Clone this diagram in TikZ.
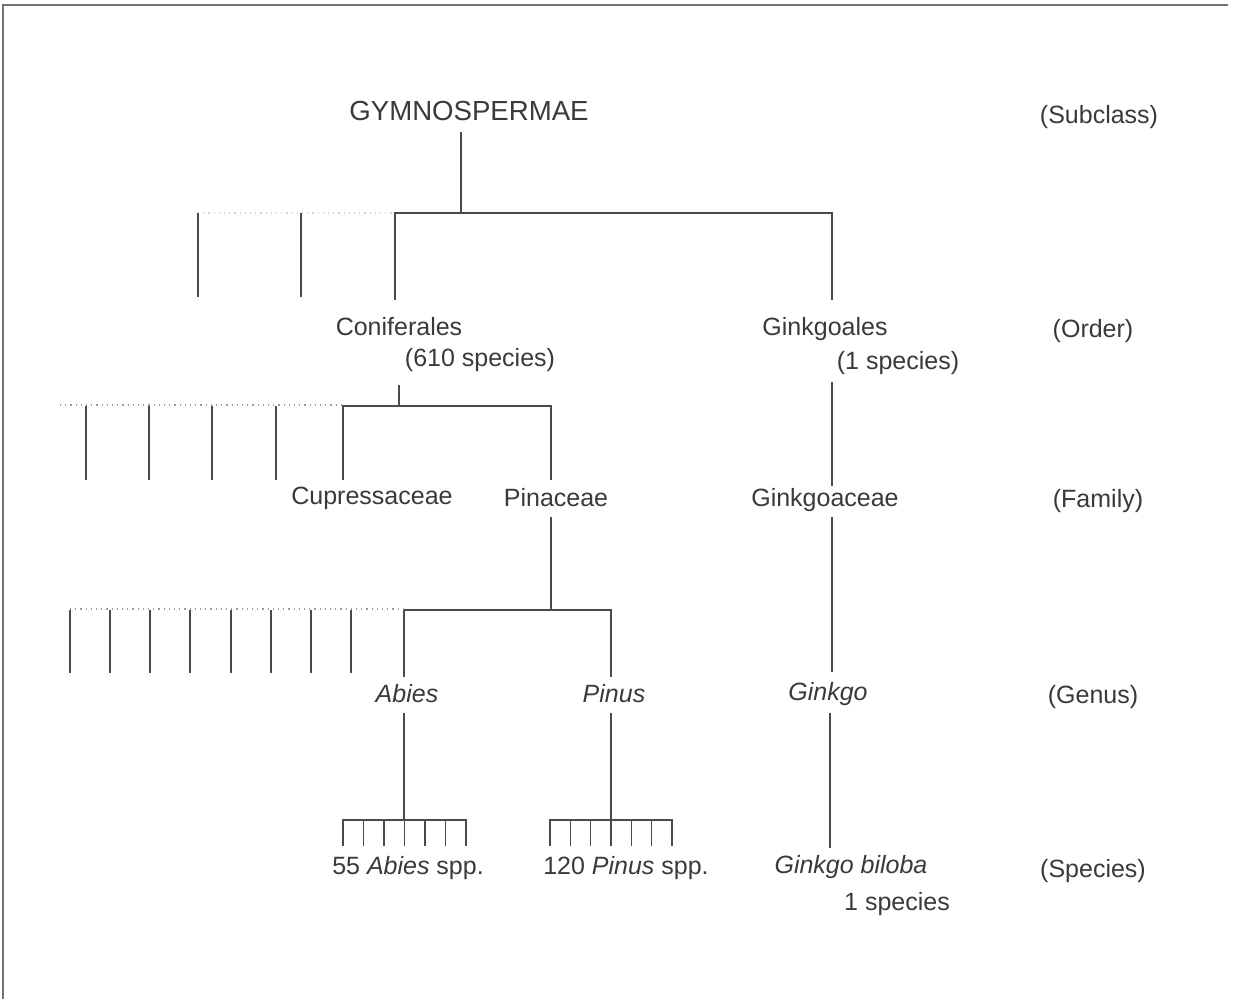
\documentclass[tikz,border=0pt]{standalone}
\usepackage{fontspec}
\setmainfont{Liberation Sans}
\definecolor{ink}{HTML}{3A3A3A}
\definecolor{rule}{HTML}{4A4A4A}
\tikzset{
  lbl/.style={text=ink, font=\fontsize{12.5}{15}\selectfont, inner sep=1pt, anchor=center},
  rank/.style={lbl},
  branch/.style={draw=rule, line width=0.75pt},
  faint/.style={draw=rule!55, line width=0.6pt, dotted},
  fainter/.style={draw=rule!25, line width=0.6pt, dotted},
  frame/.style={draw=black!55, line width=0.8pt}
}
\begin{document}
\begin{tikzpicture}[x=0.5pt, y=-0.5pt]
\useasboundingbox (0,0) rectangle (1243,999);
\fill[white] (0,0) rectangle (1243,999);
% page edge
\draw[frame] (3,999) -- (3,5) -- (1228,5);

% ---- labels ----
\node[lbl, font=\fontsize{13.8}{16}\selectfont] (gym) at (469,111) {GYMNOSPERMAE};
\node[lbl] (con) at (399,327) {Coniferales};
\node[lbl] (con2) at (480,360) {(610 species)};
\node[lbl] (gin) at (825,329) {Ginkgoales};
\node[lbl] (gin2) at (898,363) {(1 species)};
\node[lbl] (cup) at (372,498) {Cupressaceae};
\node[lbl] (pina) at (556,498) {Pinaceae};
\node[lbl] (ginf) at (825,500) {Ginkgoaceae};
\node[lbl] (abies) at (407,694) {\itshape Abies};
\node[lbl] (pinus) at (614,694) {\itshape Pinus};
\node[lbl] (ging) at (828,694) {\itshape Ginkgo};
\node[lbl] (abs) at (408,868) {55 \textit{Abies} spp.};
\node[lbl] (pis) at (626,868) {120 \textit{Pinus} spp.};
\node[lbl] (gb) at (851,867) {\itshape Ginkgo biloba};
\node[lbl] (gb2) at (897,904) {1 species};

\node[rank] (r1) at (1099,117) {(Subclass)};
\node[rank] (r2) at (1093,331) {(Order)};
\node[rank] (r3) at (1098,501) {(Family)};
\node[rank] (r4) at (1093,697) {(Genus)};
\node[rank] (r5) at (1093,871) {(Species)};

% ---- junction points ----
\coordinate (j1) at (461,213);
\coordinate (j2) at (399,406);
\coordinate (j3) at (551,610);
\coordinate (j4) at (404,820);
\coordinate (j5) at (611,820);

% subclass -> orders
\draw[branch] (461,132) -- (j1);
\draw[branch] (395,300) -- (395,213) -- (832,213) -- (832,300);
\draw[fainter] (198,213) -- (395,213);
\foreach \x in {198,301} \draw[branch] (\x,213) -- (\x,297);

% Coniferales -> families
\draw[branch] (399,385) -- (j2);
\draw[branch] (343,480) -- (343,406) -- (551,406) -- (551,480);
\draw[faint] (60,405) -- (343,405);
\foreach \x in {86,149,212,276} \draw[branch] (\x,406) -- (\x,480);

% Ginkgoales -> Ginkgoaceae
\draw[branch] (832,382) -- (832,486);

% Pinaceae -> genera
\draw[branch] (551,517) -- (j3);
\draw[branch] (404,677) -- (404,610) -- (611,610) -- (611,677);
\draw[faint] (70,609) -- (404,609);
\foreach \x in {70,110,150,190,231,271,311,351} \draw[branch] (\x,610) -- (\x,673);

% Ginkgoaceae -> Ginkgo
\draw[branch] (832,517) -- (832,672);

% genera -> species
\draw[branch] (404,713) -- (j4);
\draw[branch] (343,846) -- (343,820) -- (466,820) -- (466,846);
\foreach \i in {1,...,5} \draw[branch] ({343+\i*20.5},820) -- ({343+\i*20.5},846);

\draw[branch] (611,713) -- (j5);
\draw[branch] (550,846) -- (550,820) -- (672,820) -- (672,846);
\foreach \i in {1,...,5} \draw[branch] ({550+\i*20.33},820) -- ({550+\i*20.33},846);

\draw[branch] (830,713) -- (830,848);
\end{tikzpicture}
\end{document}
